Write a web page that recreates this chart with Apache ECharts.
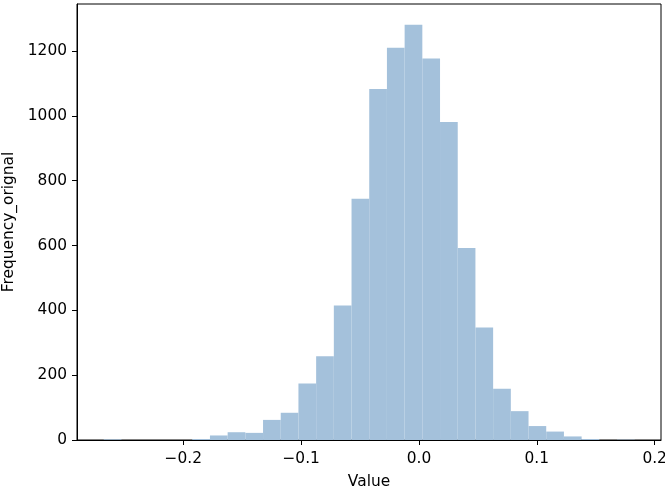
<!DOCTYPE html>
<html>
<head>
<meta charset="utf-8">
<script src="https://cdn.jsdelivr.net/npm/echarts@6/dist/echarts.min.js"></script>
<style>html,body{margin:0;padding:0;background:#fff}#c{width:665px;height:488px}</style>
</head>
<body>
<div id="c"></div>
<script>
// Histogram bins: first edge and width (30 bins)
const binStart = -0.2675;
const binWidth = 0.01502;
const counts = [2, 0, 0, 0, 0, 3, 14, 24, 22, 62, 84, 174, 258, 415, 744, 1083, 1210, 1281, 1177, 981, 592, 347, 158, 89, 43, 26, 11, 3, 0, 1];
const xTicks = [-0.2, -0.1, 0.0, 0.1, 0.2];
const yTicks = [0, 200, 400, 600, 800, 1000, 1200];

const data = counts.map((c, i) => [binStart + i * binWidth, binStart + (i + 1) * binWidth, c]);
const FONT = 'DejaVu Sans';
const FS = 15.4;

const chart = echarts.init(document.getElementById('c'), null, {renderer: 'canvas'});
chart.setOption({
  animation: false,
  grid: {left: 77, right: 4, top: 4, bottom: 48, containLabel: false, outerBoundsMode: 'none',
    show: true, borderColor: '#000', borderWidth: 1, backgroundColor: 'transparent'},
  xAxis: {
    type: 'value', min: -0.2902, max: 0.2054,
    name: 'Value', nameLocation: 'middle', nameGap: 34,
    nameTextStyle: {fontFamily: FONT, fontSize: FS, color: '#000'},
    axisLine: {show: true, onZero: false, lineStyle: {color: '#000', width: 1}},
    axisTick: {show: true, length: 5, lineStyle: {color: '#000'}, customValues: xTicks},
    axisLabel: {fontFamily: FONT, fontSize: FS, color: '#000', margin: 11, customValues: xTicks,
      formatter: v => (v < 0 ? '\u2212' : '') + Math.abs(v).toFixed(1)},
    splitLine: {show: false}
  },
  yAxis: {
    type: 'value', min: 0, max: 1345, interval: 200,
    name: 'Frequency_orignal', nameLocation: 'middle', nameGap: 59,
    nameTextStyle: {fontFamily: FONT, fontSize: FS, color: '#000'},
    axisLine: {show: true, onZero: false, lineStyle: {color: '#000', width: 1}},
    axisTick: {show: true, length: 5, lineStyle: {color: '#000'}, customValues: yTicks},
    axisLabel: {fontFamily: FONT, fontSize: FS, color: '#000', margin: 10, customValues: yTicks,
      formatter: v => String(v)},
    splitLine: {show: false}
  },
  series: [{
    type: 'custom',
    data: data,
    encode: {x: [0, 1], y: 2},
    renderItem: function (params, api) {
      const p0 = api.coord([api.value(0), 0]);
      const p1 = api.coord([api.value(1), api.value(2)]);
      return {
        type: 'rect',
        shape: {x: p0[0], y: p1[1], width: p1[0] - p0[0], height: p0[1] - p1[1]},
        style: {fill: '#a4c1db', stroke: null}
      };
    }
  }]
});
</script>
</body>
</html>
